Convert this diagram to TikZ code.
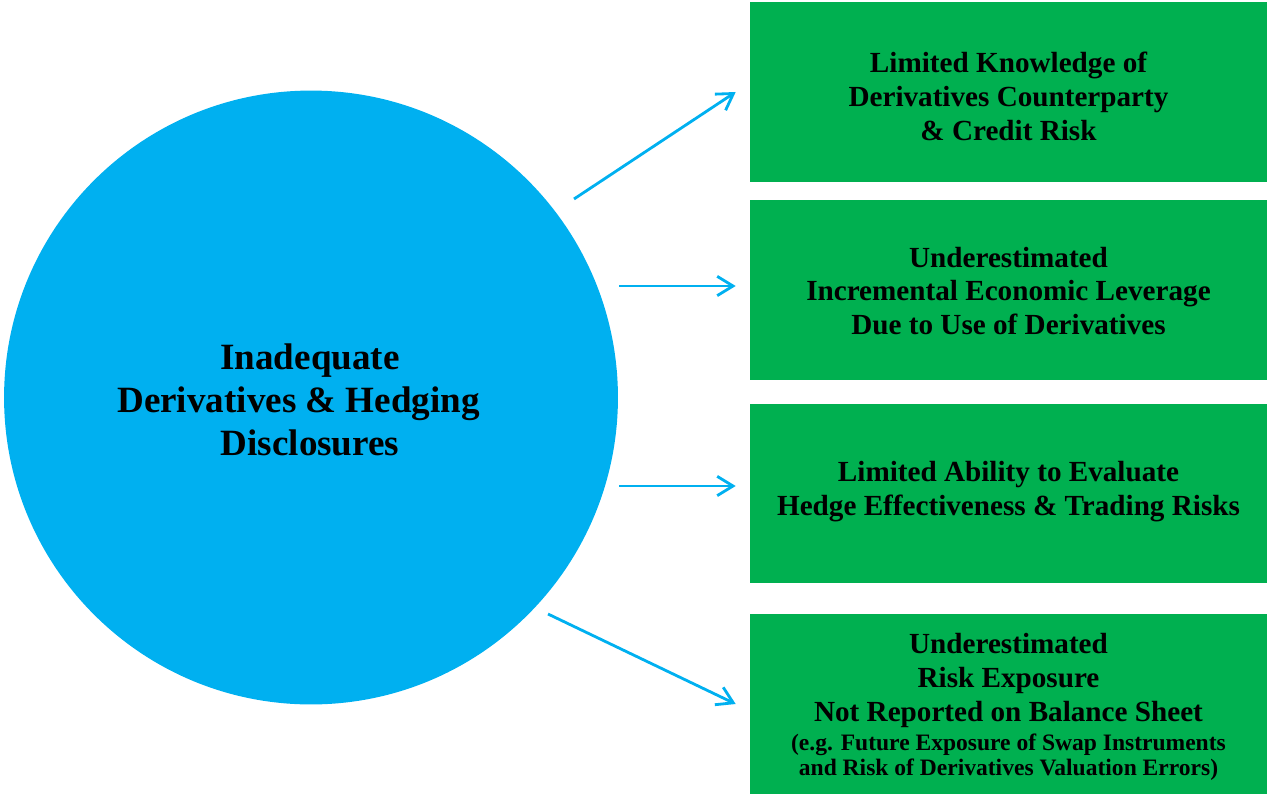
\documentclass[tikz,border=0pt]{standalone}
\usepackage{fontspec}
\setmainfont{Liberation Serif}
\usetikzlibrary{arrows.meta}
\definecolor{cblue}{HTML}{00B0F0}
\definecolor{cgreen}{HTML}{00B050}
\begin{document}
\begin{tikzpicture}[x=0.02cm,y=-0.02cm,
  box/.style={rectangle,fill=cgreen,minimum width=10.34cm,minimum height=3.6cm,inner sep=0pt},
  boxtext/.style={align=center,inner sep=0pt,font=\bfseries\fontsize{16.6}{19.3}\selectfont},
  link/.style={cblue,line width=1.6pt,-{Straight Barb[length=9pt,width=11pt,line width=1.6pt]}}]
\useasboundingbox (0,0) rectangle (1267,794);
\node[circle,fill=cblue,minimum size=12.28cm,inner sep=0pt] (circ) at (311,397.5) {};
\node[align=center,font=\bfseries\fontsize{21.1}{24.4}\selectfont] (ctext) at (310,400) {Inadequate\\Derivatives \& Hedging\rule{0.46cm}{0pt}\\Disclosures};
\node[box] (b1) at (1008.5,92) {};
\node[box] (b2) at (1008.5,290) {};
\node[box] (b3) at (1008.5,493.5) {};
\node[box] (b4) at (1008.5,704) {};
\node[boxtext] (t1) at (1008.5,96) {Limited Knowledge of\\Derivatives Counterparty\\\& Credit Risk};
\node[boxtext] (t2) at (1008.5,291) {Underestimated\\Incremental Economic Leverage\\Due to Use of Derivatives};
\node[boxtext] (t3) at (1008.5,491.5) {Limited Ability to Evaluate\\Hedge Effectiveness \& Trading Risks};
\node[boxtext] (t4) at (1008.5,707) {Underestimated\\Risk Exposure\\Not Reported on Balance Sheet\\[-0.1cm]{\fontsize{13.4}{14.7}\selectfont (e.g. Future Exposure of Swap Instruments}\\[-0.16cm]{\fontsize{13.4}{14.7}\selectfont and Risk of Derivatives Valuation Errors)}};
\coordinate (s1) at (574,199);
\coordinate (s2) at (619,286);
\coordinate (s3) at (619,486);
\coordinate (s4) at (548,614);
\draw[link] (s1) -- ([xshift=-0.28cm]b1.west);
\draw[link] (s2) -- ([xshift=-0.28cm]b2.west |- s2);
\draw[link] (s3) -- ([xshift=-0.28cm]b3.west |- s3);
\draw[link] (s4) -- ([xshift=-0.28cm]b4.west);
\end{tikzpicture}
\end{document}
